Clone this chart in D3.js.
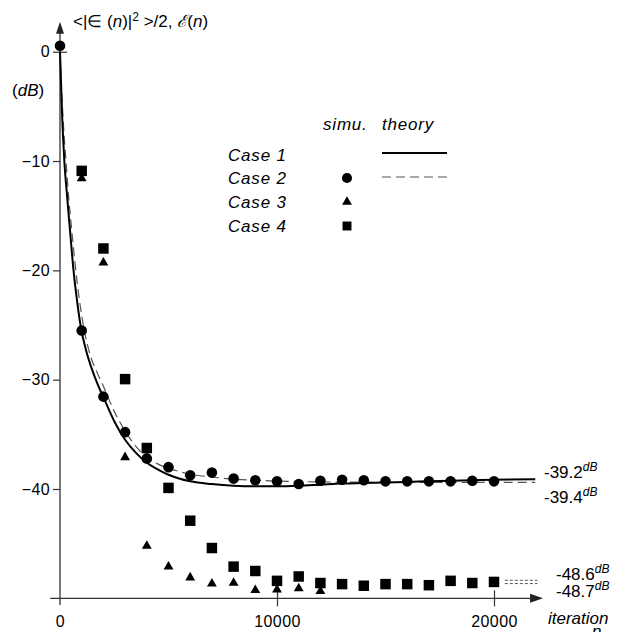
<!DOCTYPE html>
<html lang="en">
    <head>
        <meta charset="utf-8">
        <title>Learning curves</title>
        <script src="https://d3js.org/d3.v7.min.js"></script>
        <style type="text/css">
            body { margin: 0; background: white; }
            text { font-family: "Liberation Sans", Arial, sans-serif; fill: black; }
            .tick text { font-size: 16px; letter-spacing: 0.4px; }
            .tick line { stroke: #333; stroke-width: 1.2px; }
            .axisline { stroke: #333; stroke-width: 1.3px; fill: none; }
            .legend { font-size: 17px; font-style: italic; letter-spacing: 0.8px; }
            .solid { fill: none; stroke: black; stroke-width: 2px; }
            .dashed { fill: none; stroke: #555; stroke-width: 1.2px; stroke-dasharray: 9,5; }
            .asym { fill: none; stroke: #555; stroke-width: 1px; stroke-dasharray: 3,2; }
        </style>
    </head>
    <body>
        <script type="text/javascript">

            const w = 628;
            const h = 632;

            // simulation points (dB), one every 1000 iterations
            const case2N = [0, 1000, 2000, 3000, 4000, 5000, 6000, 7000, 8000, 9000, 10000,
                            11000, 12000, 13000, 14000, 15000, 16000, 17000, 18000, 19000, 20000];
            const case2Sim = [0.55, -25.5, -31.55, -34.8, -37.2, -38.0, -38.75, -38.5, -39.05, -39.2, -39.3,
                              -39.55, -39.25, -39.15, -39.2, -39.3, -39.3, -39.3, -39.3, -39.25, -39.3];

            const case3N = [1000, 2000, 3000, 4000, 5000, 6000, 7000, 8000, 9000, 10000, 11000, 12000];
            const case3Sim = [-11.6, -19.3, -37.1, -45.2, -47.1, -48.1, -48.65, -48.6, -49.25, -49.2, -49.1, -49.35];

            const case4N = [1000, 2000, 3000, 4000, 5000, 6000, 7000, 8000, 9000, 10000,
                            11000, 12000, 13000, 14000, 15000, 16000, 17000, 18000, 19000, 20000];
            const case4Sim = [-10.9, -18.0, -29.95, -36.25, -39.9, -42.9, -45.4, -47.1, -47.5, -48.4,
                              -48.0, -48.6, -48.7, -48.85, -48.7, -48.7, -48.8, -48.4, -48.6, -48.5];

            // theory curves
            const case1TheoryN = [0, 100, 200, 330, 460, 613, 800, 968, 1200, 1500, 1750, 2000, 2500, 3000, 3500,
                                  4000, 4500, 5000, 6000, 7000, 8000, 9000, 10000, 11000, 12000, 13000, 14000,
                                  15000, 16000, 17000, 18000, 19000, 20000, 21900];
            const case1Theory = [0, -6, -10, -13.3, -16.3, -19.8, -23, -25.3, -27.3, -29.2, -30.5, -31.6, -33.8, -35.5, -36.7,
                                 -37.6, -38.2, -38.7, -39.3, -39.55, -39.7, -39.75, -39.75, -39.7, -39.6, -39.5, -39.45,
                                 -39.4, -39.35, -39.3, -39.25, -39.2, -39.15, -39.1];

            const case2TheoryN = [0, 100, 200, 276, 400, 540, 700, 900, 1100, 1400, 1700, 2000, 2500, 3000, 3500,
                                  4000, 4500, 5000, 5500, 6000, 7000, 8000, 9000, 10000, 12000, 14000, 16000,
                                  18000, 20000, 21900];
            const case2Theory = [0, -4.5, -8, -10, -13.3, -16.3, -19.5, -22.8, -25.3, -27.8, -29.3, -30.6, -32.9, -34.7, -36.1,
                                 -37.1, -37.7, -38.1, -38.4, -38.65, -38.9, -39.1, -39.2, -39.28, -39.35, -39.38, -39.4,
                                 -39.4, -39.4, -39.4];

            // steady-state markers near the right edge
            const asymN = [20500, 22000];
            const asymLevels = [-48.35, -48.65];

            const yTicks = [0, -10, -20, -30, -40];
            const xTicks = [0, 10000, 20000];
            const caseNames = ["Case 1", "Case 2", "Case 3", "Case 4"];

            const xScale = d3.scaleLinear().domain([0, 20000]).range([60, 494]);
            const yScale = d3.scaleLinear().domain([0, -40]).range([51.7, 489]);

            const svg = d3.select("body")
                .append("svg")
                .attr("width", w)
                .attr("height", h);

            // axes
            const x0 = xScale(0), yBase = yScale(-50);
            svg.append("line").attr("class", "axisline")
                .attr("x1", xScale(-450)).attr("x2", xScale(21700))
                .attr("y1", yBase).attr("y2", yBase);
            svg.append("path")
                .attr("d", `M${xScale(22260)},${yBase} l-13,-4.5 l0,9 z`)
                .attr("fill", "#222");
            svg.append("line").attr("class", "axisline")
                .attr("x1", x0).attr("x2", x0)
                .attr("y1", yScale(-50.6)).attr("y2", yScale(2.2));
            svg.append("path")
                .attr("d", `M${x0},${yScale(2.75)} l-4,12 l8,0 z`)
                .attr("fill", "#222");

            const leftAxis = d3.axisLeft(yScale)
                .tickValues(yTicks)
                .tickSize(7)
                .tickPadding(3)
                .tickFormat(d3.format("d"));
            const gy = svg.append("g")
                .attr("transform", "translate(" + x0 + ",0)")
                .call(leftAxis);
            gy.select(".domain").remove();
            gy.selectAll(".tick").filter(d => d === 0).select("line").attr("x2", 7).attr("x1", -7);

            const bottomAxis = d3.axisBottom(xScale)
                .tickValues(xTicks)
                .tickSize(8)
                .tickPadding(9)
                .tickFormat(d3.format("d"));
            const gx = svg.append("g")
                .attr("transform", "translate(0," + yBase + ")")
                .call(bottomAxis);
            gx.select(".domain").remove();
            gx.selectAll(".tick line").attr("y1", -8);
            gx.selectAll(".tick").filter(d => d === 0).select("line").remove();

            // axis titles
            const yl = svg.append("text").attr("x", 73).attr("y", 27).style("font-size", "17px");
            yl.append("tspan").text("<|\u2208 (");
            yl.append("tspan").style("font-style", "italic").text("n");
            yl.append("tspan").text(")|");
            yl.append("tspan").attr("dy", -6).style("font-size", "12px").text("2");
            yl.append("tspan").attr("dy", 6).text(" >/2, ");
            yl.append("tspan").style("font-style", "italic").text("\u2130");
            yl.append("tspan").text("(");
            yl.append("tspan").style("font-style", "italic").text("n");
            yl.append("tspan").text(")");

            const db = svg.append("text").attr("x", 12).attr("y", 96).style("font-size", "17px");
            db.append("tspan").text("(");
            db.append("tspan").style("font-style", "italic").text("dB");
            db.append("tspan").text(")");

            svg.append("text").attr("x", 548).attr("y", 624)
                .style("font-size", "17px").style("font-style", "italic").text("iteration");
            svg.append("text").attr("x", 592).attr("y", 637)
                .style("font-size", "17px").style("font-style", "italic").text("n");

            // theory curves
            const line = d3.line()
                .x(d => xScale(d[0]))
                .y(d => yScale(d[1]))
                .curve(d3.curveMonotoneX);

            svg.append("path").attr("class", "dashed")
                .attr("d", line(d3.zip(case2TheoryN, case2Theory)));
            svg.append("path").attr("class", "solid")
                .attr("d", line(d3.zip(case1TheoryN, case1Theory)));

            asymLevels.forEach(v => {
                svg.append("path").attr("class", "asym")
                    .attr("d", d3.line().x(d => xScale(d)).y(() => yScale(v))(asymN));
            });

            // simulation markers
            const circleSym = d3.symbol().type(d3.symbolCircle).size(88);
            const triSym = d3.symbol().type(d3.symbolTriangle).size(42);
            const sqSym = d3.symbol().type(d3.symbolSquare).size(110);

            function drawPoints(ns, vals, sym) {
                svg.append("g").selectAll("path")
                    .data(d3.zip(ns, vals))
                    .join("path")
                    .attr("d", sym)
                    .attr("transform", d => "translate(" + xScale(d[0]) + "," + yScale(d[1]) + ")")
                    .attr("fill", "black");
            }
            drawPoints(case3N, case3Sim, triSym);
            drawPoints(case4N, case4Sim, sqSym);
            drawPoints(case2N, case2Sim, circleSym);

            // end labels
            function endLabel(x, y, val) {
                const t = svg.append("text").attr("x", x).attr("y", y).style("font-size", "17px");
                t.append("tspan").text(val);
                t.append("tspan").attr("dy", -7).style("font-size", "12px").style("font-style", "italic").text("dB");
            }
            endLabel(544, 478, "-39.2");
            endLabel(544, 503, "-39.4");
            endLabel(556, 580, "-48.6");
            endLabel(556, 597, "-48.7");

            // legend
            svg.append("text").attr("class", "legend").attr("x", 323).attr("y", 130).text("simu.");
            svg.append("text").attr("class", "legend").attr("x", 382).attr("y", 130).text("theory");
            const legY = [155, 178, 202, 226];
            caseNames.forEach((c, i) => {
                svg.append("text").attr("class", "legend")
                    .attr("x", 228).attr("y", legY[i] + 6).text(c);
            });
            svg.append("line").attr("class", "solid")
                .attr("x1", 382).attr("x2", 447).attr("y1", legY[0] - 2).attr("y2", legY[0] - 2);
            svg.append("line").attr("class", "dashed")
                .attr("x1", 382).attr("x2", 447).attr("y1", legY[1] - 1).attr("y2", legY[1] - 1);
            const legSyms = [null, circleSym, triSym, sqSym];
            legSyms.forEach((s, i) => {
                if (!s) return;
                svg.append("path").attr("d", s.size(i === 2 ? 42 : 80)())
                    .attr("transform", "translate(347," + legY[i] + ")")
                    .attr("fill", "black");
            });

        </script>
    </body>
</html>
